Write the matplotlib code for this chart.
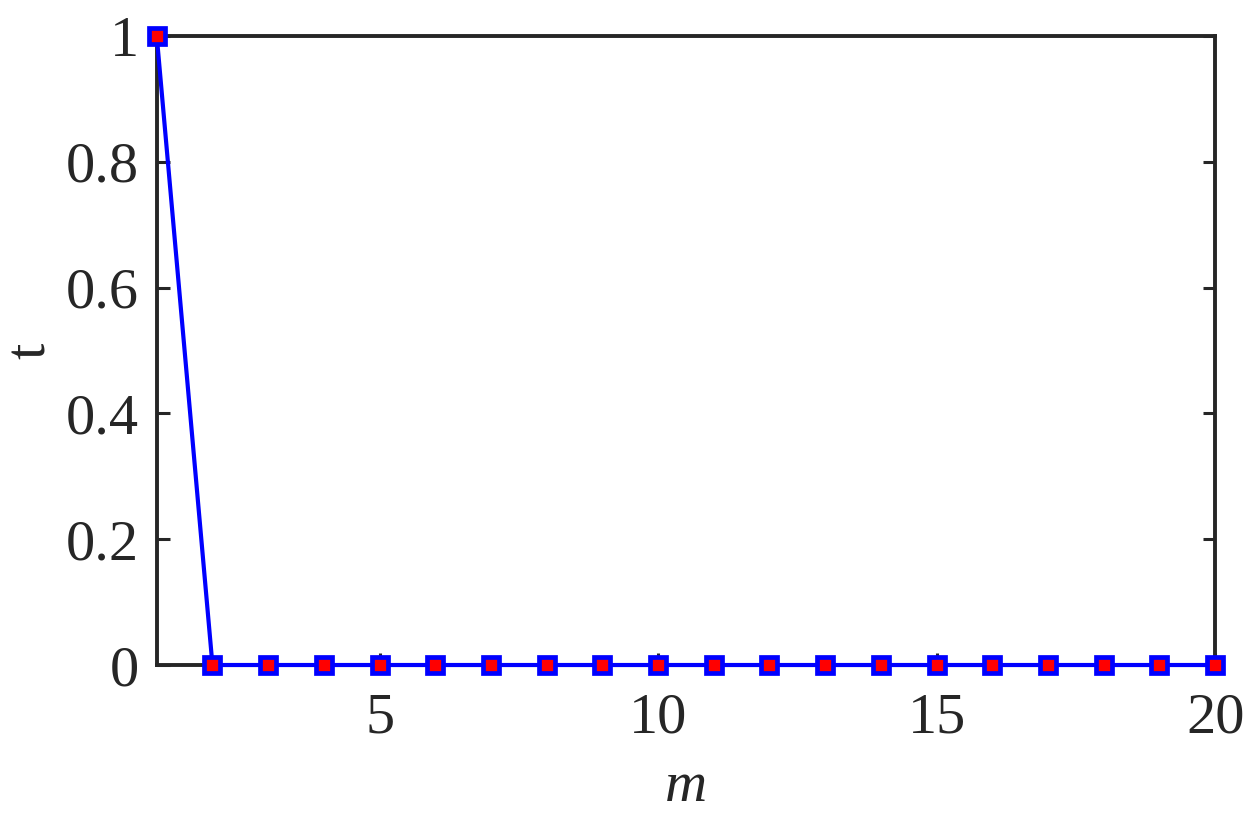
import matplotlib
matplotlib.use('Agg')
import matplotlib.pyplot as plt

# data
m = list(range(1, 21))
t = [1.0] + [0.0] * 19

x_ticks = [5, 10, 15, 20]
y_ticks = [0, 0.2, 0.4, 0.6, 0.8, 1]
y_tick_labels = ['0', '0.2', '0.4', '0.6', '0.8', '1']

plt.rcParams['font.family'] = ['Liberation Serif', 'DejaVu Serif']

fig = plt.figure(figsize=(12.54, 8.21), dpi=100)
ax = fig.add_axes([0.125, 0.19, 0.844, 0.766])

ax.plot(m, t, color='#0000ff', linewidth=3.0, marker='s', markersize=12,
        markerfacecolor='#ff0000', markeredgecolor='#0000ff', markeredgewidth=3.4,
        clip_on=False, zorder=5)

ax.set_xlim(1, 20)
ax.set_ylim(0, 1)
ax.set_xticks(x_ticks)
ax.set_yticks(y_ticks)
ax.set_yticklabels(y_tick_labels)

for s in ax.spines.values():
    s.set_linewidth(2.8)
    s.set_color('#262626')

ax.tick_params(direction='in', length=9, width=2.2, color='#262626',
               labelsize=42, labelcolor='#262626', top=False, right=True)
ax.tick_params(axis='x', pad=20)
ax.tick_params(axis='y', pad=13)

ax.set_xlabel('m', fontsize=42, style='italic', color='#262626', labelpad=12)
ax.set_ylabel('t', fontsize=42, color='#262626', labelpad=6)

fig.savefig('out.png', dpi=100, facecolor='white')
